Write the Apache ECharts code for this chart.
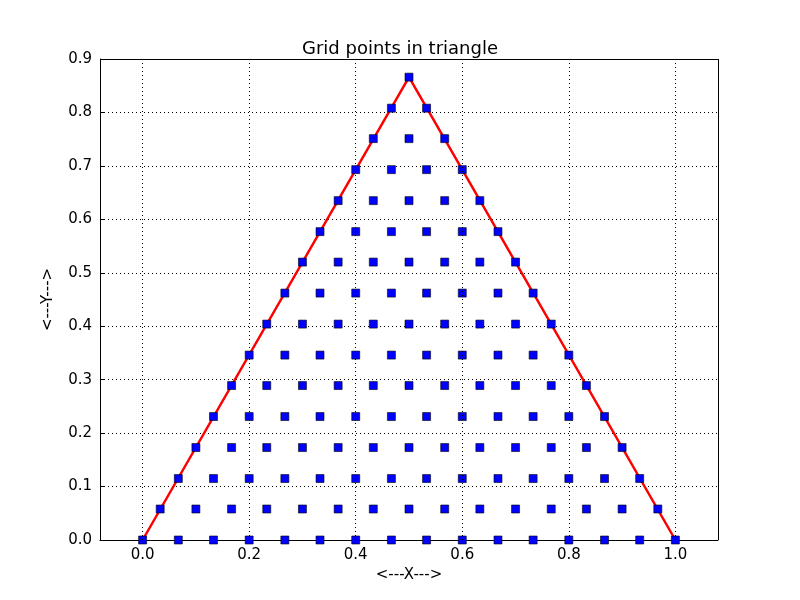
<!DOCTYPE html>
<html>
<head>
<meta charset="utf-8">
<script src="https://cdn.jsdelivr.net/npm/echarts@6/dist/echarts.min.js"></script>
<style>body{margin:0;background:#fff}#c{width:800px;height:600px}</style>
</head>
<body>
<div id="c"></div>
<script>
const xEven = [0, 0.067, 0.133, 0.2, 0.267, 0.333, 0.4, 0.467, 0.533, 0.6, 0.667, 0.733, 0.8, 0.867, 0.933, 1.0];
const xOdd = [0.033, 0.1, 0.167, 0.233, 0.3, 0.367, 0.433, 0.5, 0.567, 0.633, 0.7, 0.767, 0.833, 0.9, 0.967];
const yRows = [0, 0.058, 0.115, 0.173, 0.231, 0.289, 0.346, 0.404, 0.462, 0.520, 0.577, 0.635, 0.693, 0.751, 0.808, 0.866];
const triangle = [[0, 0], [0.5, 0.866], [1, 0]];
const xTicks = [0, 0.2, 0.4, 0.6, 0.8, 1.0];

// each row starts one half-step further in from both edges
let points = [];
yRows.forEach(function (y, j) {
    const m = Math.floor(j / 2);
    const row = (j % 2 === 0) ? xEven : xOdd;
    for (let k = m; k < row.length - m; k++) {
        points.push([row[k], y]);
    }
});

const chart = echarts.init(document.getElementById('c'));
const font = 'DejaVu Sans';
chart.setOption({
    animation: false,
    title: {text: 'Grid points in triangle', left: 'center', top: 35,
        textStyle: {fontFamily: font, fontSize: 18, fontWeight: 'normal', color: '#000'}},
    grid: {left: 100, right: 82, top: 59, bottom: 60},
    xAxis: {
        type: 'value', min: -0.08, max: 1.08,
        name: '<---X--->', nameLocation: 'middle', nameGap: 27,
        nameTextStyle: {fontFamily: font, fontSize: 15, color: '#000'},
        axisLine: {show: true, onZero: false, lineStyle: {color: '#000'}},
        axisTick: {show: true, inside: true, length: 5, customValues: xTicks, lineStyle: {color: '#000'}},
        axisLabel: {customValues: xTicks, formatter: v => v.toFixed(1), fontFamily: font, fontSize: 15, color: '#000', margin: 8},
        splitLine: {show: false}
    },
    yAxis: {
        type: 'value', min: 0, max: 0.9, interval: 0.1,
        name: '<---Y--->', nameLocation: 'middle', nameGap: 44,
        nameTextStyle: {fontFamily: font, fontSize: 15, color: '#000'},
        axisLine: {show: true, onZero: false, lineStyle: {color: '#000'}},
        axisTick: {show: true, inside: true, length: 5, lineStyle: {color: '#000'}},
        axisLabel: {formatter: v => v.toFixed(1), fontFamily: font, fontSize: 15, color: '#000'},
        splitLine: {show: true, lineStyle: {color: '#000', type: [1, 3], width: 1}}
    },
    series: [
        {
            type: 'line', data: triangle, symbol: 'none',
            lineStyle: {color: '#ff0000', width: 2.5}, z: 2,
            markLine: {
                silent: true, symbol: 'none', label: {show: false},
                lineStyle: {color: '#000', type: [1, 3], width: 1},
                data: xTicks.map(v => ({xAxis: v})).concat([
                    {xAxis: 1.08, lineStyle: {type: 'solid'}},
                    {yAxis: 0.9, lineStyle: {type: 'solid'}}
                ])
            }
        },
        {
            type: 'scatter', data: points, symbol: 'rect', symbolSize: 8,
            itemStyle: {color: '#0000ff', borderColor: '#000', borderWidth: 0.6, opacity: 1}, z: 3
        }
    ]
});
</script>
</body>
</html>
